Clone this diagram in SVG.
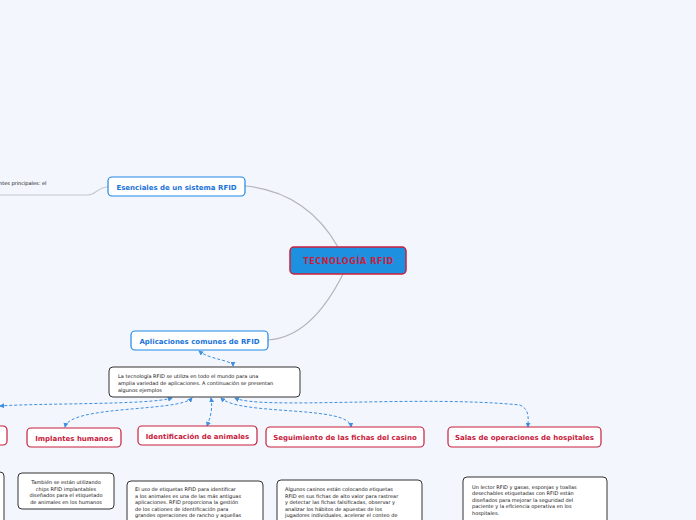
<svg xmlns="http://www.w3.org/2000/svg" width="696" height="520" viewBox="0 0 696 520">
<defs>
<marker id="ah" viewBox="0 0 6 6" refX="5" refY="3" markerWidth="5" markerHeight="5" orient="auto-start-reverse" markerUnits="userSpaceOnUse">
<path d="M0,0 L6,3 L0,6 z" fill="#3d8fe0"/>
</marker>
<style>
text{font-family:"DejaVu Sans","Verdana",sans-serif}
.sub{fill:#fff;stroke:#1e88e5;stroke-width:1.2}
.subt{fill:#1a73d9;font-size:7px;font-weight:bold;text-anchor:middle}
.ch{fill:#fff;stroke:#c8203c;stroke-width:1.2}
.cht{fill:#c8203c;font-size:7px;font-weight:bold;text-anchor:middle}
.note{fill:#fff;stroke:#333;stroke-width:1}
.nt{fill:#111;font-size:5px}
.trunk{fill:none;stroke:#b4b4bc;stroke-width:1.2}
.dash{fill:none;stroke:#3d8fe0;stroke-width:1;stroke-dasharray:3,2;marker-start:url(#ah);marker-end:url(#ah)}
</style>
</defs>
<rect width="696" height="520" fill="#f3f6fd"/>
<g id="connectors">
<path class="trunk" d="M338,247 C320,215 290,190 245,186"/>
<path class="trunk" d="M343,274 C325,310 300,338 268,340"/>
<path class="trunk" style="stroke:#c8c8d0" d="M108,187 C98,187 96,195 88,195 L0,195"/>
<path class="dash" d="M233,366 C233,360 210,360 199,351"/>
<path class="dash" d="M172,398 C150,405 40,403 0,406"/>
<path class="dash" d="M192,398 C180,412 70,405 65,427"/>
<path class="dash" d="M211,398 C213,410 210,418 207,426"/>
<path class="dash" d="M221,398 C240,416 350,405 351,427"/>
<path class="dash" d="M235,398 C260,410 420,395 520,405 C530,410 528,418 528,427"/>
</g>
<g id="central">
<rect x="290" y="247" width="116" height="27" rx="4" fill="#1e90e0" stroke="#c8203c" stroke-width="1.5"/>
<text x="348.5" y="264" fill="#c8203c" font-size="8px" font-weight="bold" letter-spacing="0.6" text-anchor="middle">TECNOLOGÍA RFID</text>
</g>
<g id="esenciales">
<rect class="sub" x="108" y="177" width="137" height="19" rx="4"/>
<text class="subt" x="176.5" y="189.5">Esenciales de un sistema RFID</text>
</g>
<g id="esenciales-nota">
<text class="nt" x="-1" y="185">ntes principales: el</text>
</g>
<g id="aplicaciones">
<rect class="sub" x="131" y="331" width="137" height="19" rx="4"/>
<text class="subt" x="199.5" y="343.5">Aplicaciones comunes de RFID</text>
</g>
<g id="aplicaciones-nota">
<rect class="note" x="109" y="367" width="191" height="30" rx="4"/>
<text class="nt" x="118" y="378">La tecnología RFID se utiliza en todo el mundo para una</text>
<text class="nt" x="118" y="385">amplia variedad de aplicaciones. A continuación se presentan</text>
<text class="nt" x="118" y="392">algunos ejemplos</text>
</g>
<g id="izquierda">
<rect class="ch" x="-20" y="426" width="27" height="19" rx="4"/>
<rect class="note" x="-20" y="472" width="24" height="60" rx="4"/>
</g>
<g id="implantes">
<rect class="ch" x="27" y="428" width="94" height="19" rx="4"/>
<text class="cht" x="74" y="440.5">Implantes humanos</text>
</g>
<g id="implantes-nota">
<rect class="note" x="18" y="473" width="96" height="36" rx="4"/>
<text class="nt" text-anchor="middle" x="66" y="484">También se están utilizando</text>
<text class="nt" text-anchor="middle" x="66" y="490.5">chips RFID implantables</text>
<text class="nt" text-anchor="middle" x="66" y="497">diseñados para el etiquetado</text>
<text class="nt" text-anchor="middle" x="66" y="503.5">de animales en los humanos</text>
</g>
<g id="animales">
<rect class="ch" x="138" y="426" width="119" height="19" rx="4"/>
<text class="cht" x="197.5" y="438.5">Identificación de animales</text>
</g>
<g id="animales-nota">
<rect class="note" x="127" y="481" width="136" height="50" rx="4"/>
<text class="nt" x="135" y="491">El uso de etiquetas RFID para identificar</text>
<text class="nt" x="135" y="497.5"> a los animales es una de las más antiguas</text>
<text class="nt" x="135" y="504">aplicaciones. RFID proporciona la gestión</text>
<text class="nt" x="135" y="510.5">de los cationes de identificación para</text>
<text class="nt" x="135" y="517">grandes operaciones de rancho y aquellas</text>
</g>
<g id="casino">
<rect class="ch" x="266" y="427" width="158" height="20" rx="4"/>
<text class="cht" x="345" y="440">Seguimiento de las fichas del casino</text>
</g>
<g id="casino-nota">
<rect class="note" x="277" y="480" width="145" height="50" rx="4"/>
<text class="nt" x="285" y="491">Algunos casinos están colocando etiquetas</text>
<text class="nt" x="285" y="497.5">RFID en sus fichas de alto valor para rastrear</text>
<text class="nt" x="285" y="504">y detectar las fichas falsificadas, observar y</text>
<text class="nt" x="285" y="510.5">analizar los hábitos de apuestas de los</text>
<text class="nt" x="285" y="517">jugadores individuales, acelerar el conteo de</text>
</g>
<g id="hospitales">
<rect class="ch" x="448" y="427" width="153" height="20" rx="4"/>
<text class="cht" x="524.5" y="440">Salas de operaciones de hospitales</text>
</g>
<g id="hospitales-nota">
<rect class="note" x="463" y="477" width="144" height="50" rx="4"/>
<text class="nt" x="472" y="488.5">Un lector RFID y gasas, esponjas y toallas</text>
<text class="nt" x="472" y="495">desechables etiquetadas con RFID están</text>
<text class="nt" x="472" y="501.5">diseñados para mejorar la seguridad del</text>
<text class="nt" x="472" y="508">paciente y la eficiencia operativa en los</text>
<text class="nt" x="472" y="514.5">hospitales.</text>
</g>
</svg>
